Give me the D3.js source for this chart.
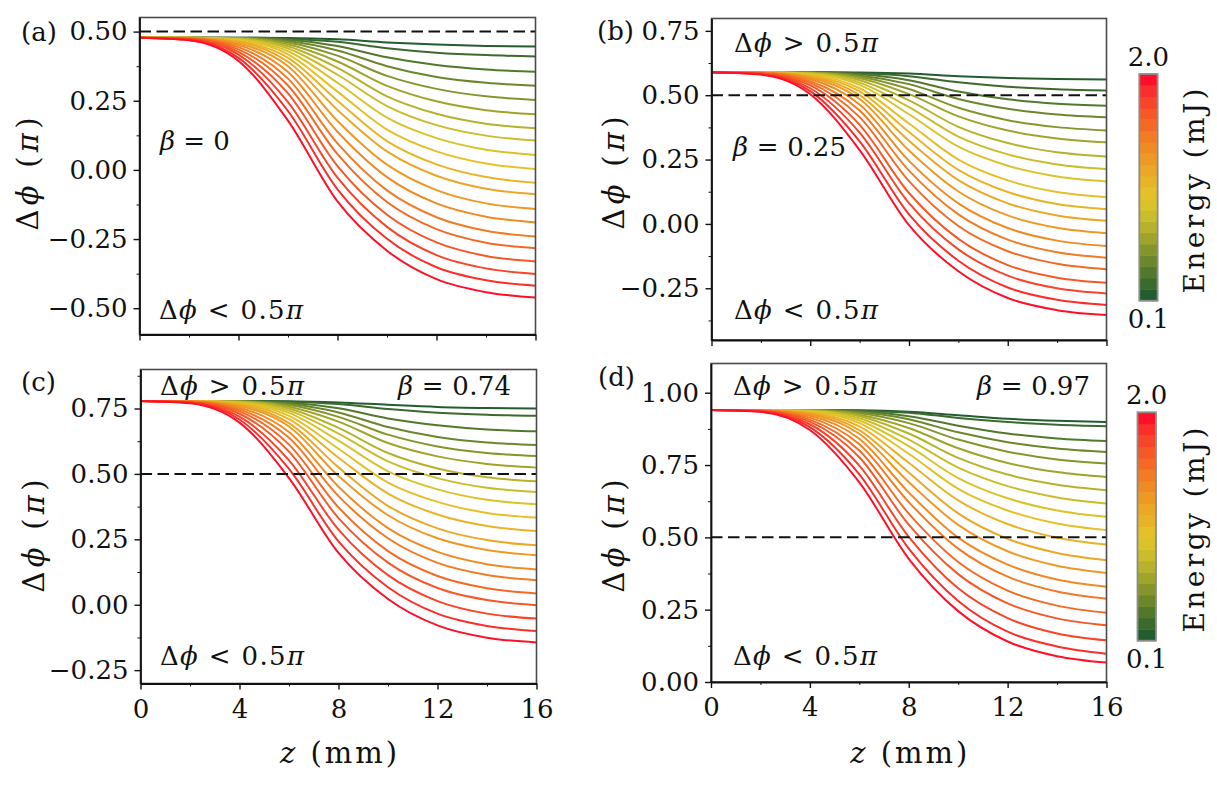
<!DOCTYPE html>
<html><head><meta charset="utf-8">
<script src="https://cdn.jsdelivr.net/npm/d3@7"></script>
<style>
html,body{margin:0;padding:0;background:#fff;}
svg{display:block;font-family:"DejaVu Serif",serif;}
</style></head><body>
<svg id="chart" width="1217" height="790"></svg>
<script>
// ---------- data ----------
const zMM = [0, 2, 4, 6, 8, 10, 12, 14, 16];
const energyMJ = [0.1,0.2,0.3,0.4,0.5,0.6,0.7,0.8,0.9,1.0,1.1,1.2,1.3,1.4,1.5,1.6,1.7,1.8,1.9,2.0];
const phiA = [
 [.478,.478,.478,.477,.472,.461,.453,.448,.446],
 [.478,.478,.478,.474,.463,.440,.424,.415,.410],
 [.478,.478,.477,.471,.448,.407,.379,.363,.355],
 [.478,.478,.477,.466,.432,.375,.336,.315,.304],
 [.478,.478,.476,.461,.413,.340,.293,.266,.253],
 [.478,.478,.476,.454,.392,.304,.248,.216,.201],
 [.478,.478,.474,.447,.369,.266,.203,.167,.151],
 [.478,.478,.473,.439,.344,.231,.162,.124,.106],
 [.478,.478,.471,.429,.315,.189,.115,.073,.054],
 [.478,.478,.469,.418,.283,.146,.067,.023,.003],
 [.478,.478,.465,.405,.250,.104,.020,-.026,-.046],
 [.478,.477,.462,.391,.217,.067,-.021,-.068,-.088],
 [.478,.477,.457,.375,.177,.019,-.073,-.121,-.141],
 [.478,.476,.451,.354,.138,-.026,-.121,-.169,-.190],
 [.478,.476,.444,.330,.096,-.074,-.171,-.220,-.241],
 [.478,.475,.436,.305,.057,-.116,-.214,-.263,-.283],
 [.478,.474,.427,.277,.014,-.162,-.262,-.311,-.331],
 [.478,.472,.417,.245,-.028,-.206,-.308,-.356,-.376],
 [.478,.470,.405,.213,-.070,-.249,-.352,-.399,-.419],
 [.478,.469,.394,.178,-.114,-.292,-.395,-.442,-.461]
];
const phiB = [
 [.589,.589,.589,.588,.584,.574,.567,.563,.561],
 [.589,.589,.589,.585,.574,.550,.533,.523,.518],
 [.589,.589,.588,.581,.558,.514,.484,.467,.459],
 [.589,.589,.588,.577,.543,.485,.447,.425,.414],
 [.589,.589,.587,.572,.524,.451,.403,.376,.363],
 [.589,.589,.587,.566,.504,.418,.363,.332,.317],
 [.589,.589,.585,.558,.480,.377,.314,.278,.262],
 [.589,.589,.584,.549,.454,.339,.270,.231,.213],
 [.589,.589,.582,.540,.426,.300,.226,.184,.165],
 [.589,.589,.579,.527,.390,.250,.169,.124,.104],
 [.589,.589,.576,.515,.357,.210,.124,.077,.057],
 [.589,.588,.572,.500,.323,.170,.080,.033,.012],
 [.589,.588,.568,.485,.285,.126,.033,-.015,-.036],
 [.589,.587,.562,.464,.245,.080,-.016,-.065,-.086],
 [.589,.587,.554,.441,.207,.037,-.061,-.110,-.131],
 [.589,.586,.547,.415,.166,-.008,-.106,-.155,-.176],
 [.589,.585,.538,.385,.120,-.058,-.160,-.209,-.229],
 [.589,.583,.527,.355,.081,-.099,-.201,-.250,-.270],
 [.589,.581,.516,.321,.037,-.143,-.247,-.295,-.315],
 [.589,.580,.504,.287,-.005,-.184,-.288,-.335,-.354]
];
const phiC = [
 [.779,.779,.779,.778,.773,.764,.756,.752,.750],
 [.779,.779,.779,.776,.767,.748,.734,.726,.722],
 [.779,.779,.778,.772,.751,.712,.686,.670,.663],
 [.779,.779,.778,.768,.735,.679,.641,.620,.610],
 [.779,.779,.777,.763,.718,.650,.605,.580,.568],
 [.779,.779,.777,.757,.700,.618,.567,.538,.524],
 [.779,.779,.776,.750,.676,.580,.521,.487,.472],
 [.779,.779,.774,.742,.654,.548,.484,.447,.431],
 [.779,.779,.772,.733,.627,.510,.441,.401,.384],
 [.779,.779,.770,.722,.596,.467,.393,.351,.333],
 [.779,.779,.767,.709,.562,.425,.345,.301,.282],
 [.779,.778,.763,.694,.525,.378,.292,.247,.227],
 [.779,.778,.759,.681,.492,.342,.254,.209,.189],
 [.779,.777,.753,.660,.451,.293,.202,.155,.135],
 [.779,.777,.746,.638,.415,.254,.160,.114,.094],
 [.779,.776,.739,.612,.372,.205,.110,.063,.043],
 [.779,.775,.730,.585,.331,.161,.064,.018,-.002],
 [.779,.773,.719,.552,.287,.113,.014,-.034,-.053],
 [.779,.772,.708,.519,.242,.067,-.034,-.081,-.100],
 [.779,.770,.696,.484,.198,.022,-.079,-.126,-.144]
];
const phiD = [
 [.940,.940,.940,.939,.934,.922,.910,.903,.899],
 [.940,.940,.940,.938,.931,.913,.899,.889,.884],
 [.940,.940,.940,.936,.919,.886,.859,.842,.833],
 [.940,.940,.940,.933,.908,.863,.829,.807,.795],
 [.940,.940,.939,.929,.895,.838,.796,.769,.755],
 [.940,.940,.939,.924,.878,.808,.757,.726,.709],
 [.940,.940,.938,.919,.859,.775,.717,.682,.663],
 [.940,.940,.937,.912,.838,.741,.677,.638,.617],
 [.940,.940,.936,.904,.815,.705,.635,.593,.571],
 [.940,.940,.934,.895,.789,.668,.593,.548,.525],
 [.940,.940,.931,.884,.758,.628,.546,.499,.475],
 [.940,.940,.928,.871,.724,.583,.495,.446,.421],
 [.940,.939,.925,.858,.691,.543,.452,.402,.377],
 [.940,.939,.920,.841,.655,.499,.406,.354,.329],
 [.940,.938,.914,.822,.622,.461,.364,.313,.288],
 [.940,.938,.907,.800,.582,.415,.316,.264,.239],
 [.940,.937,.900,.777,.544,.373,.272,.220,.196],
 [.940,.936,.891,.748,.502,.324,.221,.168,.144],
 [.940,.935,.881,.718,.461,.280,.174,.123,.098],
 [.940,.934,.871,.690,.426,.245,.140,.089,.067]
];
const thresholdPi = 0.5;
const xTicks = [0, 4, 8, 12, 16];
const xMinorTicks = [2, 6, 10, 14];
const yTicksA = [-0.5, -0.25, 0, 0.25, 0.5];
const yTicksB = [-0.25, 0, 0.25, 0.5, 0.75];
const yTicksC = [-0.25, 0, 0.25, 0.5, 0.75];
const yTicksD = [0, 0.25, 0.5, 0.75, 1.0];
const panelTags = ["(a)", "(b)", "(c)", "(d)"];
const betaLabels = ["0", "0.25", "0.74", "0.97"];
const colorbarTickLabels = ["0.1", "2.0"];

// ---------- style ----------
const palette = ["#225c2f","#3a6a2d","#52782c","#6c862b","#86952b","#9fa42b","#b6b22b","#cabd2b","#dac32a","#e4c029",
                 "#e8b427","#eba726","#ee9924","#f08a23","#f27b23","#f46a24","#f65826","#f84428","#fb2e29","#fe1029"];
const color = d3.scaleOrdinal().domain(energyMJ).range(palette);
const FONT = "DejaVu Serif";

const svg = d3.select("#chart");

const panels = [
  {id:"a", data:phiA, ticks:yTicksA, left:139.5, right:535.5, top:17.5, bottom:334.5, yMin:-0.595, yMax:0.551, showX:false,
   tag:[21, 31.7], ylab:[28, 174]},
  {id:"b", data:phiB, ticks:yTicksB, left:711.5, right:1106.5, top:18.5, bottom:340, yMin:-0.451, yMax:0.798, showX:false,
   tag:[597, 31], ylab:[614, 173]},
  {id:"c", data:phiC, ticks:yTicksC, left:140.5, right:536.5, top:369.5, bottom:683.5, yMin:-0.301, yMax:0.899, showX:true,
   tag:[21, 382], ylab:[34, 536]},
  {id:"d", data:phiD, ticks:yTicksD, left:711, right:1106.5, top:363.5, bottom:682, yMin:0, yMax:1.101, showX:true,
   tag:[598, 377], ylab:[614, 536]}
];

function minorOf(ticks, yMin, yMax) {
  const out = [];
  for (let k = 0; k < ticks.length; k++) {
    const m1 = ticks[k] + 0.125, m0 = ticks[k] - 0.125;
    if (m1 > yMin && m1 < yMax && !out.includes(m1)) out.push(m1);
    if (m0 > yMin && m0 < yMax && !out.includes(m0)) out.push(m0);
  }
  return out;
}

function mathText(parent, x, y, parts, size, opts = {}) {
  const t = parent.append("text").attr("x", x).attr("y", y)
    .attr("font-family", FONT).attr("font-size", size).attr("fill", "#111");
  if (opts.anchor) t.attr("text-anchor", opts.anchor);
  if (opts.transform) t.attr("transform", opts.transform);
  if (opts.len) t.attr("textLength", opts.len).attr("lengthAdjust", "spacing");
  parts.forEach(p => {
    const s = t.append("tspan").text(p[0]);
    if (p[1]) s.attr("font-style", "italic");
  });
  return t;
}

const fmt = d => d3.format(".2f")(d);

panels.forEach((p, pi) => {
  const x = d3.scaleLinear().domain([0, 16]).range([p.left, p.right]);
  const y = d3.scaleLinear().domain([p.yMin, p.yMax]).range([p.bottom, p.top]);
  const g = svg.append("g");

  svg.append("clipPath").attr("id", "clip" + p.id).append("rect")
    .attr("x", p.left).attr("y", p.top).attr("width", p.right - p.left).attr("height", p.bottom - p.top);

  const line = d3.line().x((d, i) => x(zMM[i])).y(d => y(d)).curve(d3.curveMonotoneX);
  g.append("g").attr("clip-path", `url(#clip${p.id})`)
    .selectAll("path").data(p.data).join("path")
    .attr("d", line).attr("fill", "none")
    .attr("stroke", (d, i) => color(energyMJ[i]))
    .attr("stroke-width", 2);

  g.append("line")
    .attr("x1", x(0)).attr("x2", x(16)).attr("y1", y(thresholdPi)).attr("y2", y(thresholdPi))
    .attr("stroke", "#111").attr("stroke-width", 2).attr("stroke-dasharray", "11.5,5.5");

  g.append("rect").attr("x", p.left).attr("y", p.top)
    .attr("width", p.right - p.left).attr("height", p.bottom - p.top)
    .attr("fill", "none").attr("stroke", "#4a4a4a").attr("stroke-width", 1.6);

  // y axis
  const ya = g.append("g").attr("transform", `translate(${p.left},0)`)
    .call(d3.axisLeft(y).tickValues(p.ticks).tickFormat(fmt).tickSize(6).tickPadding(6).tickSizeOuter(0));
  ya.attr("font-family", FONT).attr("font-size", 26).attr("color", "#111");
  ya.select(".domain").attr("stroke-width", 1.8);
  ya.selectAll(".tick line").attr("stroke-width", 1.4);
  g.append("g").attr("transform", `translate(${p.left},0)`)
    .call(d3.axisLeft(y).tickValues(minorOf(p.ticks, p.yMin, p.yMax)).tickFormat("").tickSize(3).tickSizeOuter(0))
    .attr("color", "#111").select(".domain").remove();

  // x axis
  const xa = g.append("g").attr("transform", `translate(0,${p.bottom})`)
    .call(d3.axisBottom(x).tickValues(xTicks).tickFormat(p.showX ? d3.format("d") : "").tickSize(6).tickPadding(10).tickSizeOuter(0));
  xa.attr("font-family", FONT).attr("font-size", 26).attr("color", "#111");
  xa.select(".domain").attr("stroke-width", 1.8);
  xa.selectAll(".tick line").attr("stroke-width", 1.4);
  g.append("g").attr("transform", `translate(0,${p.bottom})`)
    .call(d3.axisBottom(x).tickValues(xMinorTicks).tickFormat("").tickSize(3).tickSizeOuter(0))
    .attr("color", "#111").select(".domain").remove();

  // panel tag
  g.append("text").attr("x", p.tag[0]).attr("y", p.tag[1] + 9)
    .attr("font-family", FONT).attr("font-size", 26).attr("fill", "#111").text(panelTags[pi]);

  // y label
  mathText(g, 0, 0, [["Δ"], ["ϕ", true], [" ("], ["π", true], [")"]], 29,
    {anchor: "middle", transform: `translate(${p.ylab[0] + 10},${p.ylab[1]}) rotate(-90)`, len: 113});

  // x label
  if (p.showX) {
    mathText(g, (p.left + p.right) / 2, 763, [["z", true], [" (mm)"]], 29, {anchor: "middle", len: 117});
  }
});

// annotations
const big = 26;
// (a)
mathText(svg, 160, 150, [["β", true], [" = " + betaLabels[0]]], big);
mathText(svg, 159, 319, [["Δ"], ["ϕ", true], [" < 0.5"], ["π", true]], big, {len: 144});
// (b)
mathText(svg, 734, 52, [["Δ"], ["ϕ", true], [" > 0.5"], ["π", true]], big, {len: 144});
mathText(svg, 733, 156, [["β", true], [" = " + betaLabels[1]]], big, {len: 113});
mathText(svg, 734, 319, [["Δ"], ["ϕ", true], [" < 0.5"], ["π", true]], big, {len: 144});
// (c)
mathText(svg, 160, 395, [["Δ"], ["ϕ", true], [" > 0.5"], ["π", true]], big, {len: 144});
mathText(svg, 398, 395, [["β", true], [" = " + betaLabels[2]]], big, {len: 113});
mathText(svg, 160, 665, [["Δ"], ["ϕ", true], [" < 0.5"], ["π", true]], big, {len: 144});
// (d)
mathText(svg, 733, 395, [["Δ"], ["ϕ", true], [" > 0.5"], ["π", true]], big, {len: 144});
mathText(svg, 977, 395, [["β", true], [" = " + betaLabels[3]]], big, {len: 113});
mathText(svg, 733, 665, [["Δ"], ["ϕ", true], [" < 0.5"], ["π", true]], big, {len: 144});

// colorbars
const colorbars = [
  {x: 1139.3, w: 18.3, top: 74, bottom: 300.7, lab: [1194, 191]},
  {x: 1137.5, w: 18.5, top: 412.3, bottom: 640.7, lab: [1194, 530]}
];
colorbars.forEach(cb => {
  const band = d3.scaleBand().domain(energyMJ).range([cb.bottom, cb.top]);
  const g = svg.append("g");
  g.selectAll("rect.seg").data(energyMJ).join("rect").attr("class", "seg")
    .attr("x", cb.x).attr("width", cb.w)
    .attr("y", d => band(d)).attr("height", band.bandwidth() + 0.5)
    .attr("fill", d => color(d));
  g.append("rect").attr("x", cb.x).attr("y", cb.top).attr("width", cb.w).attr("height", cb.bottom - cb.top)
    .attr("fill", "none").attr("stroke", "#8c8c8c").attr("stroke-width", 1.8);
  g.append("text").attr("x", cb.x + cb.w / 2).attr("y", cb.top - 17 + 9).attr("text-anchor", "middle")
    .attr("font-family", FONT).attr("font-size", 26).attr("fill", "#111").text(colorbarTickLabels[1]);
  g.append("text").attr("x", cb.x + cb.w / 2).attr("y", cb.bottom + 18 + 9).attr("text-anchor", "middle")
    .attr("font-family", FONT).attr("font-size", 26).attr("fill", "#111").text(colorbarTickLabels[0]);
  g.append("text").attr("transform", `translate(${cb.lab[0] + 10},${cb.lab[1]}) rotate(-90)`)
    .attr("text-anchor", "middle").attr("font-family", FONT).attr("font-size", 28).attr("fill", "#111")
    .attr("textLength", 205).attr("lengthAdjust", "spacing").text("Energy (mJ)");
});
</script>
</body></html>
